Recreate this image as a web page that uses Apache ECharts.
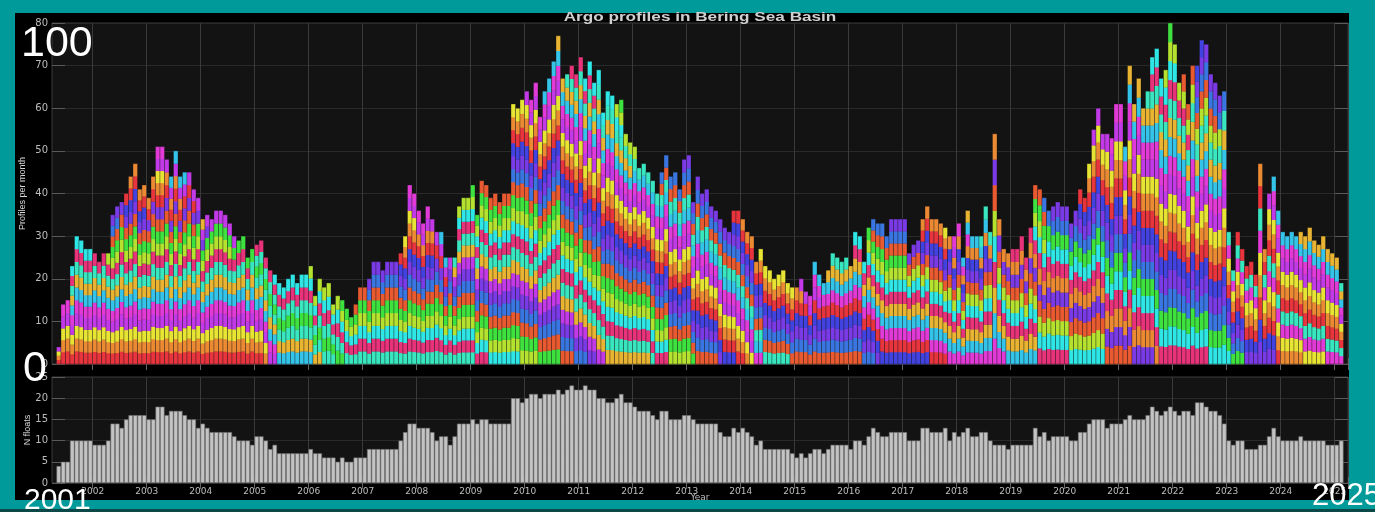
<!DOCTYPE html>
<html>
<head>
<meta charset="utf-8">
<script src="https://cdn.jsdelivr.net/npm/echarts@6/dist/echarts.min.js"></script>
<style>
html, body { margin: 0; padding: 0; background: #019a9a; }
#main { width: 1375px; height: 512px; }
</style>
</head>
<body>
<div id="main"></div>
<script>
// monthly categories, Apr 2001 .. Mar 2025 (first and last month empty)
var months = [];
for (var y = 2001; y <= 2025; y++) {
  for (var m = 1; m <= 12; m++) {
    if ((y === 2001 && m < 4) || (y === 2025 && m > 3)) continue;
    months.push(y + '-' + (m < 10 ? '0' + m : m));
  }
}

// profiles per month, May 2001 .. Feb 2025
var profiles = [
  4, 14, 15, 23, 30, 29, 27, 27, 26, 24,
  26, 26, 35, 37, 38, 40, 44, 47, 41, 42,
  39, 44, 51, 51, 48, 44, 50, 44, 45, 45,
  41, 39, 34, 35, 34, 36, 36, 35, 33, 30,
  29, 30, 25, 27, 28, 29, 25, 22, 21, 19,
  18, 20, 21, 19, 21, 21, 23, 16, 20, 18,
  19, 14, 16, 15, 13, 11, 14, 18, 18, 20,
  24, 24, 22, 24, 24, 24, 26, 30, 42, 40,
  36, 33, 37, 34, 31, 31, 25, 25, 25, 37,
  39, 39, 42, 35, 43, 42, 39, 40, 38, 40,
  40, 61, 60, 62, 64, 62, 66, 58, 64, 67,
  71, 77, 67, 68, 70, 68, 72, 67, 71, 66,
  69, 59, 64, 63, 61, 62, 54, 52, 51, 46,
  47, 45, 43, 40, 45, 49, 44, 45, 41, 48,
  49, 38, 44, 40, 41, 37, 36, 34, 32, 31,
  36, 36, 34, 31, 30, 24, 27, 23, 22, 20,
  21, 22, 19, 18, 18, 20, 17, 16, 24, 21,
  19, 22, 26, 25, 24, 25, 23, 31, 30, 24,
  32, 34, 33, 33, 30, 34, 34, 34, 34, 26,
  28, 29, 34, 37, 34, 34, 33, 32, 30, 30,
  33, 25, 36, 30, 30, 30, 37, 31, 54, 34,
  27, 26, 27, 27, 30, 25, 32, 42, 41, 39,
  36, 37, 38, 37, 37, 33, 36, 41, 39, 47,
  55, 60, 54, 54, 53, 61, 61, 51, 70, 61,
  67, 60, 64, 72, 74, 67, 69, 80, 75, 66,
  68, 61, 70, 70, 76, 75, 68, 66, 63, 64,
  31, 22, 31, 27, 23, 24, 21, 47, 27, 40,
  44, 36, 31, 30, 31, 30, 31, 30, 32, 29,
  28, 30, 27, 26, 25, 19
];

// number of floats per month, same months
var floats = [
  4, 5, 5, 10, 10, 10, 10, 10, 9, 9,
  9, 10, 14, 14, 13, 15, 16, 16, 16, 16,
  15, 15, 18, 18, 16, 17, 17, 17, 16, 15,
  15, 13, 14, 13, 12, 12, 12, 12, 12, 11,
  10, 10, 10, 9, 11, 11, 10, 8, 9, 7,
  7, 7, 7, 7, 7, 7, 8, 7, 7, 6,
  6, 6, 5, 6, 5, 5, 6, 6, 6, 8,
  8, 8, 8, 8, 8, 8, 10, 12, 14, 14,
  13, 13, 13, 12, 10, 11, 11, 9, 11, 14,
  14, 14, 15, 14, 15, 15, 14, 14, 14, 14,
  14, 20, 20, 19, 20, 21, 21, 20, 21, 21,
  21, 22, 21, 22, 23, 22, 22, 23, 22, 22,
  20, 20, 19, 19, 20, 21, 19, 19, 18, 17,
  17, 17, 16, 15, 17, 17, 15, 15, 15, 16,
  16, 15, 14, 14, 14, 14, 14, 12, 11, 11,
  13, 12, 13, 12, 11, 9, 10, 8, 8, 8,
  8, 8, 8, 7, 6, 7, 6, 7, 8, 8,
  7, 8, 9, 9, 9, 9, 8, 10, 10, 9,
  11, 13, 12, 11, 11, 12, 12, 12, 12, 10,
  10, 10, 13, 13, 12, 12, 12, 13, 10, 12,
  11, 12, 13, 11, 11, 12, 12, 10, 9, 9,
  9, 8, 9, 9, 9, 9, 9, 13, 11, 12,
  10, 11, 11, 11, 11, 10, 10, 12, 12, 14,
  15, 15, 15, 13, 14, 14, 14, 15, 16, 15,
  15, 15, 16, 18, 17, 16, 17, 18, 17, 16,
  17, 17, 16, 19, 19, 18, 17, 17, 16, 14,
  10, 9, 10, 10, 8, 8, 8, 9, 9, 11,
  13, 11, 10, 10, 10, 10, 11, 10, 10, 10,
  10, 10, 9, 9, 9, 10
];

var floatColors = ['#e8343c', '#3a76e2', '#b4e22e', '#38e6c0', '#e23ad6', '#ec8a34',
  '#7a3ae6', '#3ee23e', '#e8327a', '#34c4ea', '#e8e434', '#4242e0',
  '#ea5a30', '#2ee6e6', '#e8b432', '#c23ae8'];

// colour of each float's slice per month: new floats go on top; when the count
// drops, an old float (4+ years) leaves first, otherwise one near the top
var active = [], born = [], nextId = 0, gone = 0;
var stacks = floats.map(function (n, k) {
  while (active.length < n) { active.push(nextId++); born.push(k); }
  while (active.length > n) {
    var idx = (k - born[0] >= 44) ? 0 : active.length - 1 - (gone % 3) % active.length;
    active.splice(idx, 1);
    born.splice(idx, 1);
    gone++;
  }
  return active.map(function (id) { return floatColors[(id * 5) % floatColors.length]; });
});

function janOnly(i, v) { return months[i].slice(5) === '01'; }

var labelStyle = { color: '#bdbdbd', fontSize: 10, fontFamily: 'DejaVu Sans' };

function xAxisFor(grid, pos, showLabels) {
  return {
    type: 'category', data: months, gridIndex: grid, position: pos,
    axisLine: { show: false },
    axisTick: { show: true, inside: true, length: 6, interval: janOnly, lineStyle: { color: '#666' } },
    axisLabel: Object.assign({ show: showLabels, interval: janOnly, margin: 4, padding: [0, 4, 0, 0],
      formatter: function (v) { return v.slice(0, 4); } }, labelStyle, { fontSize: 9 }),
    splitLine: { show: pos === 'bottom', interval: janOnly, lineStyle: { color: '#3a3a3a' } }
  };
}

function yAxisFor(grid, pos, max, step, name, gap) {
  return {
    type: 'value', gridIndex: grid, position: pos, min: 0, max: max, interval: step,
    name: pos === 'left' ? name : '', nameLocation: 'middle', nameGap: gap, nameMoveOverlap: false,
    nameTextStyle: { color: '#d8d8d8', fontSize: 9, fontFamily: 'Liberation Sans' },
    axisLine: { show: false },
    axisTick: { show: true, inside: true, length: 13, lineStyle: { color: '#5a5a5a' } },
    axisLabel: Object.assign({ show: pos === 'left', margin: 4 }, labelStyle),
    splitLine: { show: pos === 'left', lineStyle: { color: '#2a2a2a' } }
  };
}

var bottomX = xAxisFor(1, 'bottom', true);
bottomX.name = 'Year';
bottomX.nameLocation = 'middle';
bottomX.nameGap = 10;
bottomX.nameMoveOverlap = false;
bottomX.nameTextStyle = { color: '#bdbdbd', fontSize: 9, fontFamily: 'DejaVu Sans' };

var myChart = echarts.init(document.getElementById('main'));
var option = {
  backgroundColor: '#019a9a',
  animation: false,
  grid: [
    { left: 52, right: 27, top: 23, height: 341, show: true, backgroundColor: '#131313',
      borderColor: '#3a3a3a', borderWidth: 1 },
    { left: 52, right: 27, top: 377, height: 106, show: true, backgroundColor: '#131313',
      borderColor: '#3a3a3a', borderWidth: 1 }
  ],
  xAxis: [xAxisFor(0, 'bottom', false), xAxisFor(0, 'top', false), bottomX, xAxisFor(1, 'top', false)],
  yAxis: [
    yAxisFor(0, 'left', 80, 10, 'Profiles per month', 25),
    yAxisFor(0, 'right', 80, 10, '', 0),
    yAxisFor(1, 'left', 25, 5, 'N floats', 20),
    yAxisFor(1, 'right', 25, 5, '', 0)
  ],
  graphic: {
    elements: [
      { type: 'rect', z: -10, silent: true, shape: { x: 15, y: 13, width: 1334, height: 487 },
        style: { fill: '#000' } },
      { type: 'rect', z: -10, silent: true, shape: { x: 0, y: 509, width: 1375, height: 3 },
        style: { fill: '#0b4848' } },
      { type: 'text', z: 50, x: 700, y: 17.5, scaleX: 1.43, silent: true,
        style: { text: 'Argo profiles in Bering Sea Basin', font: 'bold 12px "Liberation Sans"',
          fill: '#d0d0d0', align: 'center', verticalAlign: 'middle' } },
      { type: 'text', z: 100, x: 21, y: 44, silent: true,
        style: { text: '100', font: '43px "Liberation Sans"', fill: '#fff', verticalAlign: 'middle' } },
      { type: 'text', z: 100, x: 23, y: 369, silent: true,
        style: { text: '0', font: '43px "Liberation Sans"', fill: '#fff', verticalAlign: 'middle' } },
      { type: 'text', z: 100, x: 24, y: 501, silent: true,
        style: { text: '2001', font: '30px "Liberation Sans"', fill: '#fff', verticalAlign: 'middle' } },
      { type: 'text', z: 100, x: 1312, y: 496, silent: true,
        style: { text: '2025', font: '31px "Liberation Sans"', fill: '#fff', verticalAlign: 'middle' } }
    ]
  },
  series: [
    {
      name: 'Profiles per month',
      type: 'custom',
      xAxisIndex: 0,
      yAxisIndex: 0,
      encode: { x: 0, y: 1 },
      data: profiles.map(function (v, i) { return [i + 1, v, floats[i]]; }),
      renderItem: function (params, api) {
        var x = api.value(0);
        var cols = stacks[params.dataIndex];
        var p0 = api.coord([x, 0]);
        var p1 = api.coord([x, api.value(1)]);
        var w = api.size([1, 0])[0];
        var h = (p0[1] - p1[1]) / cols.length;
        var kids = cols.map(function (c, i) {
          return { type: 'rect',
            shape: { x: p0[0] - w / 2, y: p0[1] - h * (i + 1), width: w, height: h + 0.3 },
            style: { fill: c } };
        });
        kids.push({ type: 'rect',
          shape: { x: p0[0] - w / 2, y: p1[1], width: w, height: p0[1] - p1[1] },
          style: { fill: 'none', stroke: 'rgba(20,20,20,0.55)', lineWidth: 0.6 } });
        return { type: 'group', children: kids };
      }
    },
    {
      name: 'N floats',
      type: 'bar',
      xAxisIndex: 2,
      yAxisIndex: 2,
      barCategoryGap: '0%',
      data: floats.map(function (v, i) { return [i + 1, v]; }),
      itemStyle: { color: '#c3c3c3', borderColor: '#6e6e6e', borderWidth: 0.6 }
    }
  ]
};

myChart.setOption(option);
</script>
</body>
</html>
